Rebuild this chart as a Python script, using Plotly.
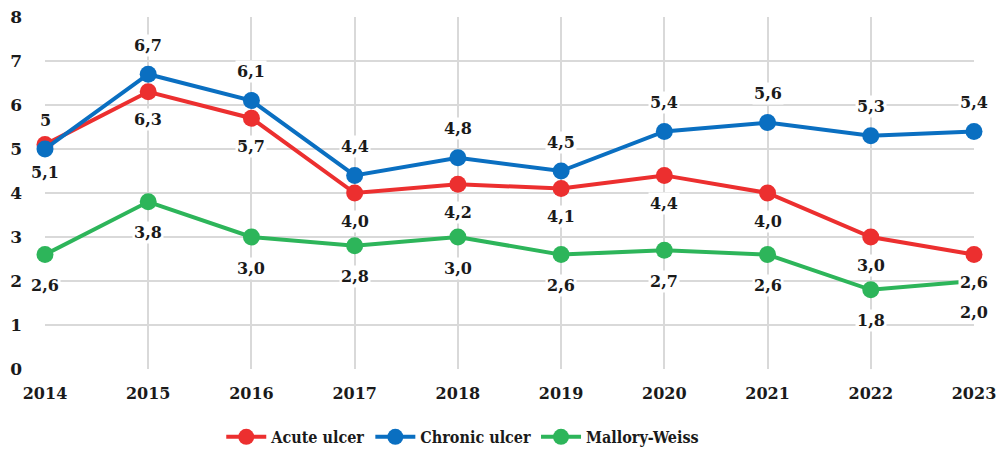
import plotly.graph_objects as go

years = [2014, 2015, 2016, 2017, 2018, 2019, 2020, 2021, 2022, 2023]
acute = [5.1, 6.3, 5.7, 4.0, 4.2, 4.1, 4.4, 4.0, 3.0, 2.6]
chronic = [5.0, 6.7, 6.1, 4.4, 4.8, 4.5, 5.4, 5.6, 5.3, 5.4]
mallory = [2.6, 3.8, 3.0, 2.8, 3.0, 2.6, 2.7, 2.6, 1.8, 2.0]

acute_labels = ["5,1", "6,3", "5,7", "4,0", "4,2", "4,1", "4,4", "4,0", "3,0", "2,6"]
chronic_labels = ["5", "6,7", "6,1", "4,4", "4,8", "4,5", "5,4", "5,6", "5,3", "5,4"]
mallory_labels = ["2,6", "3,8", "3,0", "2,8", "3,0", "2,6", "2,7", "2,6", "1,8", "2,0"]

RED = "#EC2F2F"
BLUE = "#0A6FC1"
GREEN = "#2DB55A"
FONT = "DejaVu Serif"
LEGFONT = "DejaVu Serif Condensed, DejaVu Serif"
TXT = "#1a1a1a"

fig = go.Figure()
series = [
    ("Acute ulcer", acute, RED),
    ("Chronic ulcer", chronic, BLUE),
    ("Mallory-Weiss", mallory, GREEN),
]
for name, vals, col in series:
    fig.add_trace(go.Scatter(
        x=years, y=vals, name=name, mode="lines+markers",
        line=dict(color=col, width=4),
        marker=dict(color=col, size=17),
        cliponaxis=False,
    ))

annos = []
for vals, labels, shift in [(chronic, chronic_labels, 29), (acute, acute_labels, -28), (mallory, mallory_labels, -31)]:
    for x, v, t in zip(years, vals, labels):
        annos.append(dict(
            x=x, y=v, text=t, showarrow=False, yshift=shift,
            bgcolor="white", borderpad=1,
            font=dict(family=FONT, size=16, color=TXT, weight="bold"),
        ))

fig.update_layout(
    width=1006, height=450,
    margin=dict(l=45, r=32, t=17, b=81, autoexpand=False),
    plot_bgcolor="white", paper_bgcolor="white",
    annotations=annos,
    showlegend=True,
    legend=dict(orientation="h", x=0.46, xanchor="center", xref="container",
                y=0.029, yanchor="middle", yref="container",
                font=dict(family=LEGFONT, size=16, color=TXT, weight="bold"),
                itemwidth=40, tracegroupgap=0),
    font=dict(family=FONT, size=16, color=TXT),
)
fig.update_xaxes(
    range=[2014, 2023], tickmode="array", tickvals=years,
    showgrid=True, gridcolor="#D9D9D9", gridwidth=1.5, zeroline=False,
    showline=False, ticks="", ticklabelstandoff=13,
    tickfont=dict(family=FONT, size=16, color=TXT, weight="bold"),
)
fig.update_yaxes(
    range=[0, 8], tickmode="array", tickvals=list(range(0, 9)),
    showgrid=True, gridcolor="#D9D9D9", gridwidth=1.5, zeroline=False,
    showline=False, ticks="", ticklabelstandoff=22,
    tickfont=dict(family=FONT, size=17, color=TXT, weight="bold"),
)

fig.write_html("out.html", config={"displayModeBar": False},
               post_script="document.body.style.margin='0';")
